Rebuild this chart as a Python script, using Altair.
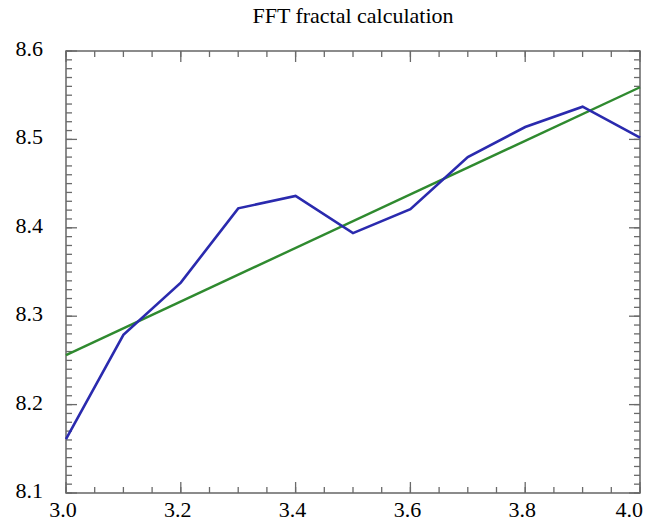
import altair as alt
import pandas as pd

# Data
x_vals = [3.0, 3.1, 3.2, 3.3, 3.4, 3.5, 3.6, 3.7, 3.8, 3.9, 4.0]
fft_vals = [8.161, 8.279, 8.338, 8.422, 8.436, 8.394, 8.421, 8.480, 8.514, 8.537, 8.502]
fit_x = [3.0, 4.0]
fit_vals = [8.256, 8.559]

x_major = [3.0, 3.2, 3.4, 3.6, 3.8, 4.0]
y_major = [8.1, 8.2, 8.3, 8.4, 8.5, 8.6]
x_minor = [round(3.0 + 0.05 * i, 2) for i in range(21)]
y_minor = [round(8.1 + 0.01 * i, 2) for i in range(51)]

W, H = 574, 442
MAJ, MIN = 11, 6
FONT = "Liberation Serif"
LFONT = "Liberation Serif, serif"
TICK = "#6a6a6a"

df_fft = pd.DataFrame({"x": x_vals, "y": fft_vals})
df_fit = pd.DataFrame({"x": fit_x, "y": fit_vals})
df_xmaj = pd.DataFrame({"x": x_major})
df_xmin = pd.DataFrame({"x": x_minor})
df_ymaj = pd.DataFrame({"y": y_major})
df_ymin = pd.DataFrame({"y": y_minor})

xs = alt.Scale(domain=[3.0, 4.0], nice=False, zero=False)
ys = alt.Scale(domain=[8.1, 8.6], nice=False, zero=False)

X = lambda: alt.X("x:Q", scale=xs, axis=None)
Y = lambda: alt.Y("y:Q", scale=ys, axis=None)

blue = alt.Chart(df_fft).mark_line(color="#2a2aae", strokeWidth=2.6).encode(x=X(), y=Y())
green = alt.Chart(df_fit).mark_line(color="#2f8a2f", strokeWidth=2.4).encode(x=X(), y=Y())

def xticks(df, L):
    bot = alt.Chart(df).mark_rule(color=TICK, strokeWidth=1.3).encode(
        x=X(), y=alt.value(H), y2=alt.value(H - L))
    top = alt.Chart(df).mark_rule(color=TICK, strokeWidth=1.3).encode(
        x=X(), y=alt.value(0), y2=alt.value(L))
    return [bot, top]

def yticks(df, L):
    left = alt.Chart(df).mark_rule(color=TICK, strokeWidth=1.3).encode(
        y=Y(), x=alt.value(0), x2=alt.value(L))
    right = alt.Chart(df).mark_rule(color=TICK, strokeWidth=1.3).encode(
        y=Y(), x=alt.value(W), x2=alt.value(W - L))
    return [left, right]

# tick labels as text marks
xlab_mid = alt.Chart(df_xmaj).transform_filter("datum.x < 4").mark_text(
    font=LFONT, fontSize=22, color="black", align="center", baseline="alphabetic", dx=-3
).encode(x=X(), y=alt.value(H + 24), text=alt.Text("x:Q", format=".1f"))
xlab_end = alt.Chart(df_xmaj).transform_filter("datum.x >= 4").mark_text(
    font=LFONT, fontSize=22, color="black", align="right", baseline="alphabetic", dx=3
).encode(x=X(), y=alt.value(H + 24), text=alt.Text("x:Q", format=".1f"))
ylab = alt.Chart(df_ymaj).mark_text(
    font=LFONT, fontSize=22, color="black", align="right", baseline="alphabetic", dx=-23, dy=5
).encode(y=Y(), x=alt.value(0), text=alt.Text("y:Q", format=".1f"))

layers = (xticks(df_xmin, MIN) + xticks(df_xmaj, MAJ) + yticks(df_ymin, MIN)
          + yticks(df_ymaj, MAJ) + [green, blue, xlab_mid, xlab_end, ylab])

chart = alt.layer(*layers).properties(
    width=W, height=H,
    title=alt.TitleParams("FFT fractal calculation", anchor="middle", frame="group",
                          baseline="bottom", offset=-12),
    padding={"left": 58, "top": 43, "right": 3, "bottom": 30},
    autosize=alt.AutoSizeParams(type="none"),
).configure(
    background="white",
).configure_view(
    stroke="#666666", strokeWidth=1.5
).configure_title(
    font=FONT, fontSize=22, fontWeight="normal", color="black"
)

chart.save("out.html", embed_options={"renderer": "svg", "actions": False})
